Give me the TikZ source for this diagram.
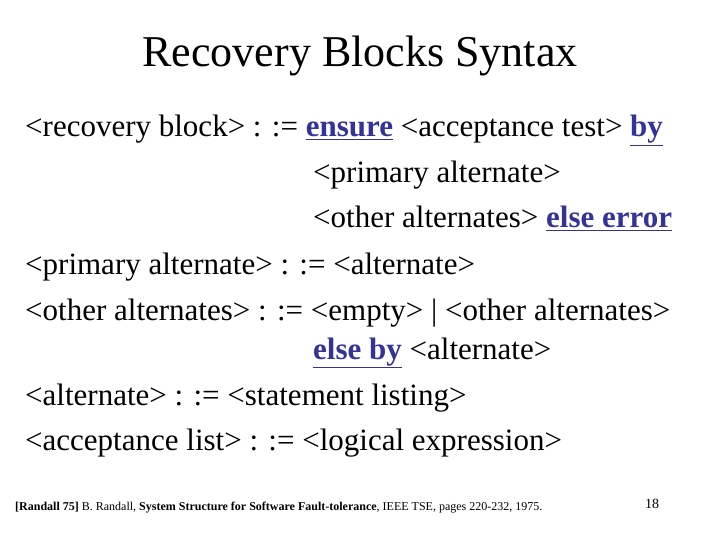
\documentclass[tikz,border=0pt]{standalone}
\usepackage{fontspec}
\setmainfont{Liberation Serif}
\usetikzlibrary{positioning}
\definecolor{keyblue}{RGB}{51,51,153}
\newcommand{\kw}[1]{\textcolor{keyblue}{\underline{\textbf{#1}}}}
\tikzset{
  line/.style={anchor=base west, inner sep=0pt, font=\fontsize{31}{34}\selectfont},
  title/.style={anchor=base, inner sep=0pt, font=\fontsize{44}{48}\selectfont},
  foot/.style={anchor=base west, inner sep=0pt, font=\fontsize{12}{14}\selectfont}
}
\begin{document}
\begin{tikzpicture}[x=1pt,y=-1pt]
        \useasboundingbox (0,0) rectangle (720,540);
        % title
        \node[title] (ttl) at (360,67) {Recovery Blocks Syntax};
        % grammar rules
        \node[line] (r1) at (25,137) {<recovery block> : := \kw{ensure} <acceptance test> \kw{by}};
        \node[line] (r1b) at (313,183) {<primary alternate>};
        \node[line] (r1c) at (313,228) {<other alternates> \kw{else error}};
        \node[line] (r2) at (25,274) {<primary alternate> : := <alternate>};
        \node[line] (r3) at (25,320) {<other alternates> : := <empty> | <other alternates>};
        \node[line] (r3b) at (313,359) {\kw{else by} <alternate>};
        \node[line] (r4) at (25,405) {<alternate> : := <statement listing>};
        \node[line] (r5) at (25,450) {<acceptance list> : := <logical expression>};
        % footer
        \node[foot] (ref) at (15,510) {\textbf{[Randall 75]} B. Randall, \textbf{System Structure for Software Fault-tolerance}, IEEE TSE, pages 220-232, 1975.};
        \node[foot, font=\fontsize{14}{16}\selectfont] (pg) at (645,508) {18};
\end{tikzpicture}
\end{document}
